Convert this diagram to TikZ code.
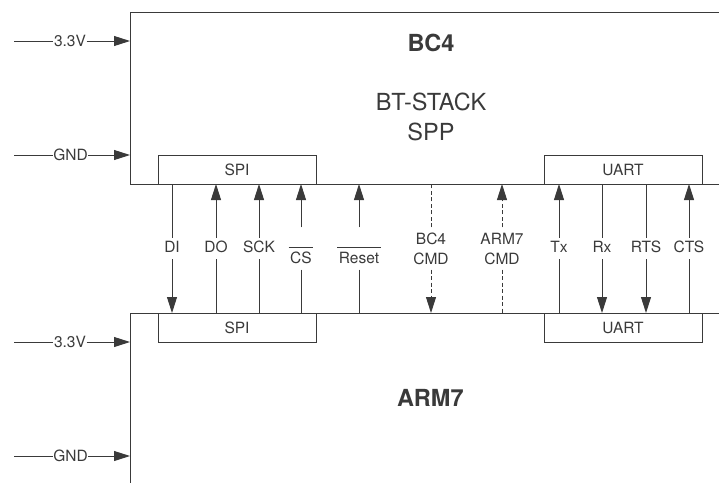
\documentclass[tikz,border=0pt]{standalone}
\usepackage{fontspec}
\setmainfont{TeX Gyre Heros}
\usetikzlibrary{arrows.meta}
\definecolor{ink}{HTML}{3A3A3A}
\newcommand{\sigfont}{\fontsize{15.5}{20}\selectfont}
\newcommand{\chipfont}{\fontsize{23.5}{30}\selectfont}
\newcommand{\barred}[1]{\setbox0\hbox{#1}\rlap{\kern-1.5pt\rule[15.5pt]{\dimexpr\wd0+3pt\relax}{0.8pt}}\box0}
\begin{document}
\begin{tikzpicture}[x=1pt,y=-1pt,
  wire/.style={draw=ink,line width=0.9pt},
  sig/.style={wire,-{Triangle[length=16pt,width=10pt]}},
  cmd/.style={sig,dash pattern=on 4pt off 2.5pt},
  lbl/.style={text=ink,font=\sigfont,inner sep=0pt,minimum height=21pt,text height=11pt,text depth=3pt},
  tall/.style={text=ink,font=\sigfont,inner sep=0pt,minimum height=42pt,align=center},
  pwr/.style={text=ink,font=\sigfont,inner xsep=0.5pt,inner ysep=0pt},
  port/.style={draw=ink,line width=0.9pt,text=ink,font=\sigfont,inner sep=0pt,minimum width=158pt,minimum height=29pt}]
\useasboundingbox (0,0) rectangle (719,483);
\draw[wire] (719,12) -- (130,12) -- (130,184) -- (719,184);
\draw[wire] (719,313) -- (130,313) -- (130,483);
\coordinate (bcedge) at (130,184);
\coordinate (armedge) at (130,313);
\node[text=ink,font=\chipfont\bfseries] (bcfour) at (431,43.3) {BC4};
\node[text=ink,font=\chipfont,align=center] (stack) at (431,117) {BT-STACK\\SPP};
\node[text=ink,font=\chipfont\bfseries] (armseven) at (430.3,397.8) {ARM7};
\node[port] (spitop) at (237,169.5) {SPI};
\node[port] (uarttop) at (623,169.5) {UART};
\node[port] (spibot) at (237,327.5) {SPI};
\node[port] (uartbot) at (623,327.5) {UART};
\coordinate (vtopin) at (14,41);
\coordinate (gndtopin) at (14,155);
\coordinate (vbotin) at (14,342);
\coordinate (gndbotin) at (14,456);
\node[pwr] (vtop) at (70,41) {3.3V};
\node[pwr] (gndtop) at (70.5,155) {GND};
\node[pwr] (vbot) at (70,342) {3.3V};
\node[pwr] (gndbot) at (70.5,456) {GND};
\draw[wire] (vtopin) -- (vtop.west);
\draw[sig] (vtop.east) -- (vtop -| bcedge);
\draw[wire] (gndtopin) -- (gndtop.west);
\draw[sig] (gndtop.east) -- (gndtop -| bcedge);
\draw[wire] (vbotin) -- (vbot.west);
\draw[sig] (vbot.east) -- (vbot -| armedge);
\draw[wire] (gndbotin) -- (gndbot.west);
\draw[sig] (gndbot.east) -- (gndbot -| armedge);
\node[lbl] (di) at (172,248.5) {DI};
\node[lbl] (do) at (216,248.5) {DO};
\node[lbl] (sck) at (259,248.5) {SCK};
\node[tall,text height=30pt,text depth=0.5pt] (cs) at (301,248.5) {\barred{CS}};
\node[tall,text height=30pt,text depth=0.5pt] (reset) at (359,248.5) {\barred{Reset}};
\node[tall] (bccmd) at (431,248.5) {BC4\\CMD};
\node[tall] (armcmd) at (502,248.5) {ARM7\\CMD};
\node[lbl] (tx) at (559,248.5) {Tx};
\node[lbl] (rx) at (602,248.5) {Rx};
\node[lbl] (rts) at (646,248.5) {RTS};
\node[lbl] (cts) at (689,248.5) {CTS};
\draw[wire] (di.north) -- (di |- bcedge);
\draw[sig] (di.south) -- (di |- armedge);
\draw[sig] (do.north) -- (do |- bcedge);
\draw[wire] (do.south) -- (do |- armedge);
\draw[sig] (sck.north) -- (sck |- bcedge);
\draw[wire] (sck.south) -- (sck |- armedge);
\draw[sig] (cs.north) -- (cs |- bcedge);
\draw[wire] (cs.south) -- (cs |- armedge);
\draw[sig] (reset.north) -- (reset |- bcedge);
\draw[wire] (reset.south) -- (reset |- armedge);
\draw[wire,dash pattern=on 4pt off 2.5pt] (bccmd.north) -- (bccmd |- bcedge);
\draw[cmd] (bccmd.south) -- (bccmd |- armedge);
\draw[cmd] (armcmd.north) -- (armcmd |- bcedge);
\draw[wire,dash pattern=on 4pt off 2.5pt] (armcmd.south) -- (armcmd |- armedge);
\draw[sig] (tx.north) -- (tx |- bcedge);
\draw[wire] (tx.south) -- (tx |- armedge);
\draw[wire] (rx.north) -- (rx |- bcedge);
\draw[sig] (rx.south) -- (rx |- armedge);
\draw[wire] (rts.north) -- (rts |- bcedge);
\draw[sig] (rts.south) -- (rts |- armedge);
\draw[sig] (cts.north) -- (cts |- bcedge);
\draw[wire] (cts.south) -- (cts |- armedge);
\end{tikzpicture}
\end{document}
